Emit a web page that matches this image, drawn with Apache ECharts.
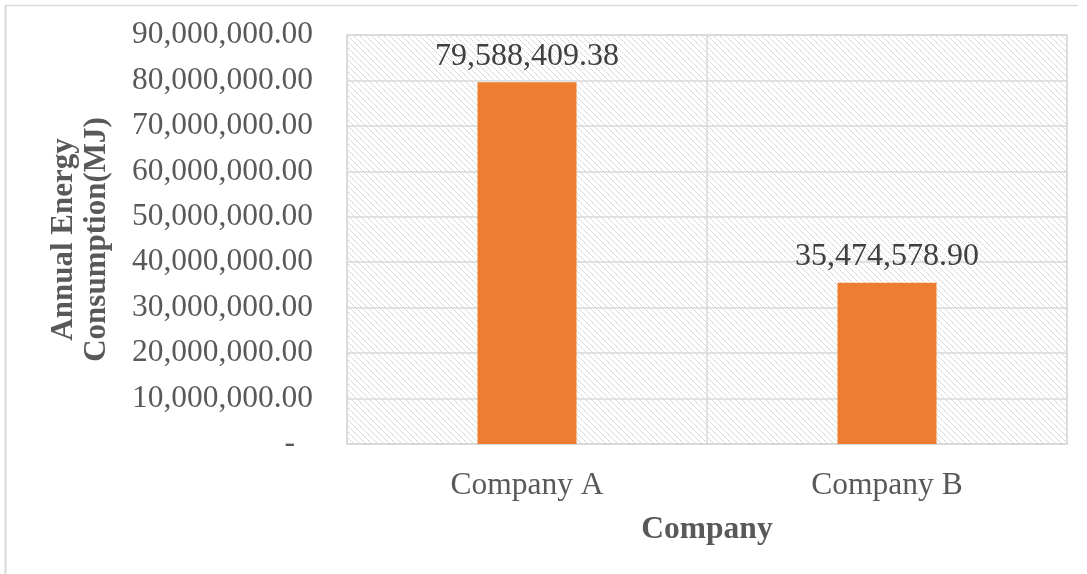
<!DOCTYPE html>
<html>
<head>
<meta charset="utf-8">
<script src="https://cdn.jsdelivr.net/npm/echarts@6/dist/echarts.min.js"></script>
<style>
html, body { margin: 0; padding: 0; background: #fff; }
#main { width: 1087px; height: 574px; }
</style>
</head>
<body>
<div id="main"></div>
<script>
var categories = ['Company A', 'Company B'];
var energyValues = [79588409.38, 35474578.90];
var yMax = 90000000;
var yStep = 10000000;

var font = "'Liberation Serif', 'Times New Roman', serif";

function fmt(v) {
	return v.toLocaleString('en-US', { minimumFractionDigits: 2, maximumFractionDigits: 2 });
}

// light downward diagonal hatch, like the excel plot area fill
function hatch() {
	var c = document.createElement('canvas');
	c.width = 6; c.height = 6;
	var ctx = c.getContext('2d');
	ctx.fillStyle = '#fff';
	ctx.fillRect(0, 0, 6, 6);
	for (var i = 0; i < 6; i++) {
		ctx.fillStyle = (i % 2 == 0) ? '#d0d0d0' : '#e4e4e4';
		ctx.fillRect(i, i, 1, 1);
	}
	return c;
}

var myChart = echarts.init(document.getElementById('main'));
var option = {
	animation: false,
	graphic: [
		{ type: 'line', shape: { x1: 5, y1: 5.5, x2: 1078, y2: 5.5 }, style: { stroke: '#d9d9d9', lineWidth: 1.5 } },
		{ type: 'line', shape: { x1: 5.5, y1: 5, x2: 5.5, y2: 574 }, style: { stroke: '#d9d9d9', lineWidth: 2 } }
	],
	grid: {
		left: 347,
		top: 35,
		width: 720,
		height: 409,
		show: true,
		borderColor: '#d9d9d9',
		borderWidth: 1.5,
		backgroundColor: { image: hatch(), repeat: 'repeat' }
	},
	xAxis: {
		type: 'category',
		data: categories,
		name: 'Company',
		nameLocation: 'middle',
		nameGap: 70,
		nameTextStyle: { fontFamily: font, fontSize: 31.5, fontWeight: 'bold', color: '#595959' },
		axisLine: { lineStyle: { color: '#d9d9d9', width: 1.5 } },
		axisTick: { show: false },
		axisLabel: { fontFamily: font, fontSize: 31.5, color: '#595959', margin: 26 },
		splitLine: { show: true, lineStyle: { color: '#d9d9d9', width: 1.5 } }
	},
	yAxis: {
		type: 'value',
		min: 0,
		max: yMax,
		interval: yStep,
		name: 'Annual Energy\nConsumption(MJ)',
		nameLocation: 'middle',
		nameGap: 234,
		nameTextStyle: { fontFamily: font, fontSize: 31, fontWeight: 'bold', color: '#595959', lineHeight: 33 },
		axisLine: { show: false },
		axisTick: { show: false },
		axisLabel: {
			fontFamily: font,
			fontSize: 31.5,
			color: '#595959',
			margin: 34,
			formatter: function (v) {
				if (v === 0) return '{d|-}';
				return fmt(v);
			},
			rich: { d: { fontFamily: font, fontSize: 31.5, color: '#595959', padding: [0, 18, 0, 0] } }
		},
		splitLine: { lineStyle: { color: '#d9d9d9', width: 1.5 } }
	},
	series: [{
		type: 'bar',
		data: energyValues,
		barWidth: '27.5%',
		itemStyle: { color: '#ED7D31' },
		label: {
			show: true,
			position: 'top',
			distance: 10,
			fontFamily: font,
			fontSize: 32,
			color: '#404040',
			formatter: function (p) { return fmt(p.value); }
		}
	}]
};
myChart.setOption(option);
</script>
</body>
</html>
